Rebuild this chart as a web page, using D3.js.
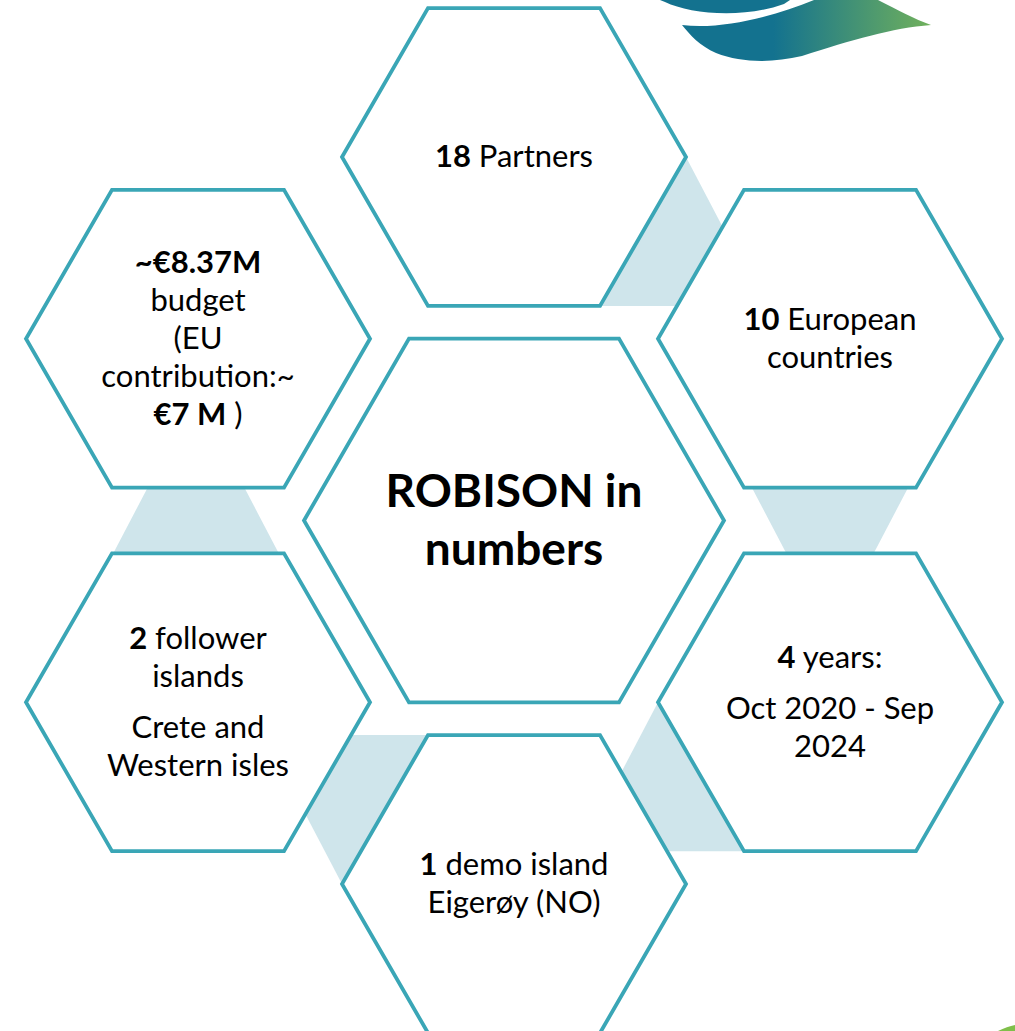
<!DOCTYPE html>
<html>
<head>
<meta charset="utf-8">
<script src="https://cdn.jsdelivr.net/npm/d3@7"></script>
<style>
  html, body { margin: 0; padding: 0; background: #fff; }
  svg { display: block; }
</style>
</head>
<body>
<div id="chart"></div>
<script>
// hexagon cells: grid column / row and the label lines (**bold** markup)
var hexIds   = ["partners", "budget", "countries", "center", "follower", "years", "demo"];
var hexCols  = [1, 0, 2, 1, 0, 2, 1];
var hexRows  = [0, 1, 1, 2, 3, 3, 4];
var hexBig   = [false, false, false, true, false, false, false];
var hexLines = [
  [["**18** Partners"]],
  [["**~€8.37M**", "budget", "(EU", "contribution:~", "**€7 M** )"]],
  [["**10** European", "countries"]],
  [["**ROBISON in**", "**numbers**"]],
  [["**2** follower", "islands"], ["Crete and", "Western isles"]],
  [["**4** years:"], ["Oct 2020 - Sep", "2024"]],
  [["**1** demo island", "Eigerøy (NO)"]]
];
// shaded links between neighbouring cells
var linkFrom = ["partners", "budget", "countries", "follower", "years"];
var linkTo   = ["countries", "follower", "years", "demo", "demo"];

var width = 1015, height = 1031;
var R = 172, Rbig = 210, H = R * Math.sqrt(3) / 2;
var teal = "#3aa6b6", shade = "#cfe5eb";

var svg = d3.select("#chart").append("svg")
    .attr("width", width)
    .attr("height", height);

var x = d3.scalePoint().domain([0, 1, 2]).range([198, 830]);
var y = d3.scaleLinear().domain([0, 4]).range([157, 884]);

var hexes = hexIds.map(function(id, i) {
  return {id: id, cx: x(hexCols[i]), cy: y(hexRows[i]),
          r: hexBig[i] ? Rbig : R, big: hexBig[i], paras: hexLines[i]};
});
var byId = {};
hexes.forEach(function(h) { byId[h.id] = h; });

function hexPoints(h) {
  return d3.range(6).map(function(k) {
    var a = k * Math.PI / 3;
    return [h.cx + h.r * Math.cos(a), h.cy + h.r * Math.sin(a)];
  });
}

// triangle wedge: apex, height (signed), spread to left / right per unit height
function wedge(ax, ay, h, sl, sr) {
  var by = ay + h, d = Math.abs(h);
  return [[ax, ay], [ax - sl * d, by], [ax + sr * d, by]];
}

var s = 0.524, e = 0.6;
function linkPoints(a, b) {
  if (a.cy < b.cy && a.cx !== b.cx && a.id === "partners")    // top cell -> right upper
    return wedge(a.cx + R, a.cy, H, e, s);
  if (a.cx === b.cx && b.cx < x(1))                           // left column, pointing up
    return wedge(a.cx - 2, a.cy + 0.38 * H, 1.35 * H, s, s);
  if (a.cx === b.cx)                                          // right column, pointing down
    return wedge(b.cx, b.cy - 0.44 * H, -1.5 * H, s, s);
  if (a.cx < b.cx)                                            // left lower -> bottom cell
    return wedge(b.cx - R, b.cy, -H, s, e);
  return wedge(a.cx - R, a.cy, H, s, e);                      // right lower -> bottom cell
}

svg.append("g").selectAll("path")
  .data(linkFrom.map(function(f, i) { return [byId[f], byId[linkTo[i]]]; }))
  .enter().append("path")
    .attr("d", function(d) { return "M" + linkPoints(d[0], d[1]).join("L") + "Z"; })
    .attr("fill", shade);

var cell = svg.append("g").selectAll("g")
  .data(hexes)
  .enter().append("g");

cell.append("path")
    .attr("d", function(d) { return "M" + hexPoints(d).join("L") + "Z"; })
    .attr("fill", "#fff")
    .attr("stroke", teal)
    .attr("stroke-width", 3.8)
    .attr("stroke-linejoin", "miter");

var lineH = 38, paraGap = 13;
cell.each(function(h) {
  var fs = h.big ? 46 : 31, lh = h.big ? 58 : lineH;
  var rows = [], yy = 0;
  h.paras.forEach(function(p, pi) {
    if (pi > 0) yy += paraGap;
    p.forEach(function(l) {
      if (rows.length) yy += lh;
      rows.push({text: l, y: yy});
    });
  });
  var mid = (rows[0].y + rows[rows.length - 1].y) / 2;
  var t = d3.select(this).append("text")
      .attr("text-anchor", "middle")
      .attr("font-family", "Lato, 'Open Sans', sans-serif")
      .attr("font-size", fs)
      .attr("fill", "#000");
  rows.forEach(function(r) {
    var line = t.append("tspan")
        .attr("x", h.cx)
        .attr("y", h.cy + (h.big ? 15 : 10) + r.y - mid);
    r.text.split("**").forEach(function(part, k) {
      if (!part) return;
      line.append("tspan")
          .attr("font-weight", k % 2 ? "bold" : "normal")
          .text(part);
    });
  });
});

// logo waves, top right
var grad = svg.append("defs").append("linearGradient")
    .attr("id", "wave").attr("gradientUnits", "userSpaceOnUse")
    .attr("x1", 660).attr("y1", 0).attr("x2", 930).attr("y2", 0);
grad.append("stop").attr("offset", "0.42").attr("stop-color", "#13728f");
grad.append("stop").attr("offset", "1").attr("stop-color", "#70b05c");

svg.append("path")
    .attr("d", "M665,2 C690,14 742,19 784,4 L790,0 L660,0 Z")
    .attr("fill", "url(#wave)");
svg.append("path")
    .attr("d", "M682,25 C722,30 775,16 814,0 L878,0 C898,10 914,19 931,25 C892,28 852,40 802,56 C772,63 742,63 716,53 C700,46 690,35 682,25 Z")
    .attr("fill", "url(#wave)");

// green swoosh, bottom right corner
svg.append("path")
    .attr("d", "M998,1031 C1004,1028 1010,1026 1015,1025 L1015,1031 Z")
    .attr("fill", "#7fbf4a");
</script>
</body>
</html>
